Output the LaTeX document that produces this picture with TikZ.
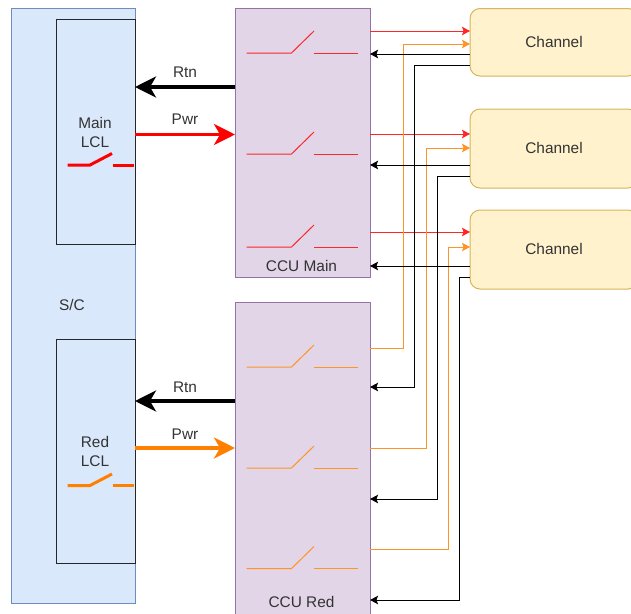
\documentclass[tikz,border=0pt]{standalone}
\usepackage{fontspec}
\setmainfont{Liberation Sans}
\usetikzlibrary{arrows.meta}
\definecolor{bluefill}{HTML}{DAE8FC}
\definecolor{blueline}{HTML}{6C8EBF}
\definecolor{purfill}{HTML}{E1D5E7}
\definecolor{purline}{HTML}{9673A6}
\definecolor{yelfill}{HTML}{FFF2CC}
\definecolor{yelline}{HTML}{D6B656}
\definecolor{txt}{HTML}{333333}
\definecolor{pwrred}{HTML}{FF0000}
\definecolor{pwrorange}{HTML}{FF8000}
\tikzset{
  box/.style={draw,rectangle,inner sep=0pt,outer sep=0pt,line width=1pt,minimum width=#1},
  sc/.style={box=123.5pt,fill=bluefill,draw=blueline},
  lcl/.style={box=79pt,fill=bluefill,draw=black!85},
  ccu/.style={box=135pt,fill=purfill,draw=purline},
  chan/.style={box=168pt,fill=yelfill,draw=yelline,rounded corners=10pt},
  lbl/.style={text=txt,font=\fontsize{15.4}{19}\selectfont,align=center,inner sep=0pt},
  wire/.style={line width=1pt,-{Stealth[length=8pt,width=8.5pt,inset=1.5pt]}},
  bus/.style={line width=3.6pt,-{Stealth[length=21pt,width=21pt,inset=6pt]}},
  swsmall/.style={line width=1pt},
  swbig/.style={line width=3pt},
}
\begin{document}
\begin{tikzpicture}[x=1pt,y=-1pt]
\useasboundingbox (0,0) rectangle (631,613);
\clip (0,0) rectangle (631,613);
% boxes
\node[sc,minimum height=594.5pt,anchor=north west] (sc) at (11.5,8.5) {};
\node[lcl,minimum height=224.5pt,anchor=north west] (mlcl) at (56,19.5) {};
\node[lcl,minimum height=224pt,anchor=north west] (rlcl) at (56,339) {};
\node[ccu,minimum height=269pt,anchor=north west] (ccum) at (235,8.5) {};
\node[ccu,minimum height=330pt,anchor=north west] (ccur) at (235,302) {};
\node[chan,minimum height=67.5pt,anchor=north west] (ch1) at (470,8.5) {};
\node[chan,minimum height=79pt,anchor=north west] (ch2) at (470,109) {};
\node[chan,minimum height=79pt,anchor=north west] (ch3) at (470,210) {};
% labels
\node[lbl] (t1) at (72,305) {S/C};
\node[lbl] (t2) at (95,132.5) {Main\\LCL};
\node[lbl] (t3) at (95,451.5) {Red\\LCL};
\node[lbl] (t4) at (301.5,266) {CCU Main};
\node[lbl] (t5) at (301.5,602) {CCU Red};
\node[lbl] (t6) at (554,42) {Channel};
\node[lbl] (t7) at (554,148) {Channel};
\node[lbl] (t8) at (554,249) {Channel};
\node[lbl] (t9) at (185,72) {Rtn};
\node[lbl] (t10) at (185,119) {Pwr};
\node[lbl] (t11) at (185,387) {Rtn};
\node[lbl] (t12) at (185,434) {Pwr};
% buses
\coordinate (y1) at (0,87);
\coordinate (y2) at (0,134.5);
\coordinate (y3) at (0,401);
\coordinate (y4) at (0,448);
\draw[bus,black] (ccum.west |- y1) -- (mlcl.east |- y1);
\draw[bus,pwrred] (mlcl.east |- y2) -- (ccum.west |- y2);
\draw[bus,black] (ccur.west |- y3) -- (rlcl.east |- y3);
\draw[bus,pwrorange] (rlcl.east |- y4) -- (ccur.west |- y4);
% LCL switches
\foreach \col/\yy in {pwrred/165,pwrorange/485.5}{
  \draw[swbig,\col] (67.5,\yy) -- (90,\yy) -- (112,\yy-11.5);
  \draw[swbig,\col] (112.5,\yy) -- (134,\yy);
}
% CCU switches
\foreach \col/\yy in {pwrred/53,pwrred/154,pwrred/247,pwrorange/367,pwrorange/468,pwrorange/568.5}{
  \draw[swsmall,\col!85!white] (246.5,\yy) -- (291.5,\yy) -- (314,\yy-22);
  \fill[\col!85!white] (314,\yy-0.35) rectangle (358,\yy+0.35);
}
% red feeds
\foreach \n/\yy in {1/31,2/134,3/232}{
  \coordinate (r\n) at (0,\yy);
  \draw[wire,pwrred!85!white] (ccum.east |- r\n) -- (ch\n.west |- r\n);
}
% orange feeds
\foreach \n/\xx/\ya/\yb in {1/403/348/44,2/426/448/148,3/448/549/247}{
  \coordinate (oa\n) at (\xx,\ya);
  \coordinate (ob\n) at (\xx,\yb);
  \draw[wire,pwrorange!85!white] (ccur.east |- oa\n) -- (oa\n) -- (ob\n) -- (ch\n.west |- ob\n);
}
% main returns
\foreach \n/\yy in {1/54,2/165,3/266}{
  \coordinate (m\n) at (0,\yy);
  \draw[wire,black] (ch\n.west |- m\n) -- (ccum.east |- m\n);
}
% redundant returns
\foreach \n/\xx/\ya/\yb in {1/414/65/387,2/437/176/499,3/459/277/600}{
  \coordinate (ka\n) at (\xx,\ya);
  \coordinate (kb\n) at (\xx,\yb);
  \draw[wire,black] (ch\n.west |- ka\n) -- (ka\n) -- (kb\n) -- (ccur.east |- kb\n);
}
\end{tikzpicture}
\end{document}
